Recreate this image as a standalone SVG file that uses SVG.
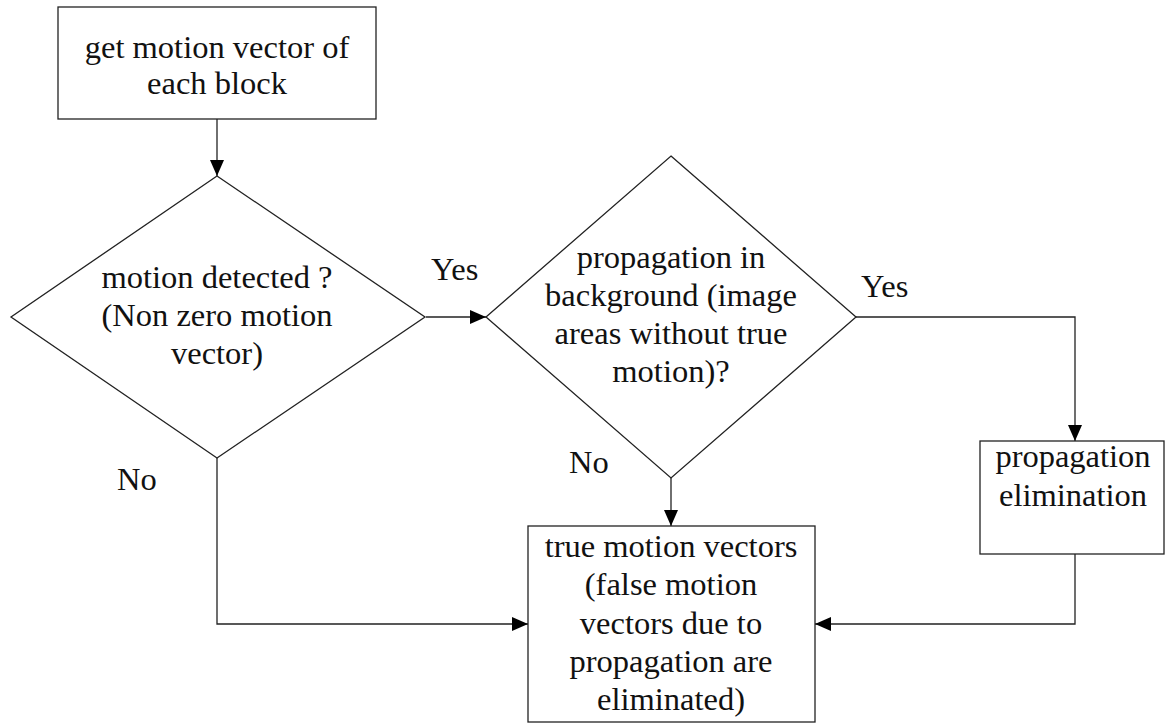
<svg xmlns="http://www.w3.org/2000/svg" width="1166" height="724" viewBox="0 0 1166 724">
  <style>
    .shape { fill: #ffffff; stroke: #222222; stroke-width: 1.3; }
    .link { fill: none; stroke: #222222; stroke-width: 1.3; }
    text { font-family: "Liberation Serif", "Times New Roman", serif; font-size: 32.5px; fill: #111111; text-anchor: middle; }
    .lbl { text-anchor: start; }
  </style>
  <defs>
    <marker id="arrow" viewBox="0 0 16 14" refX="16" refY="7" markerWidth="16" markerHeight="14" markerUnits="userSpaceOnUse" orient="auto">
      <path d="M0,0 L16,7 L0,14 Z" fill="#000000"/>
    </marker>
  </defs>

  <rect width="1166" height="724" fill="#ffffff"/>

  <!-- connectors -->
  <g id="connectors">
    <path class="link" d="M217,119 L217,176" marker-end="url(#arrow)"/>
    <path class="link" d="M426,317 L486,317" marker-end="url(#arrow)"/>
    <path class="link" d="M856,317 L1075,317 L1075,441" marker-end="url(#arrow)"/>
    <path class="link" d="M671,478 L671,526" marker-end="url(#arrow)"/>
    <path class="link" d="M217,458 L217,624 L528,624" marker-end="url(#arrow)"/>
    <path class="link" d="M1075,554 L1075,624 L815,624" marker-end="url(#arrow)"/>
    <text class="lbl" x="431" y="280">Yes</text>
    <text class="lbl" x="861" y="297">Yes</text>
    <text class="lbl" x="117" y="490">No</text>
    <text class="lbl" x="569" y="473">No</text>
  </g>

  <!-- start: block motion vectors -->
  <g id="get-mv">
    <rect class="shape" x="58" y="7" width="318" height="112"/>
    <text x="217" y="58">get motion vector of</text>
    <text x="217" y="94">each block</text>
  </g>

  <!-- decision: motion detected -->
  <g id="motion-detected">
    <polygon class="shape" points="217,176 425,317 217,458 11,317"/>
    <text x="217" y="288">motion detected ?</text>
    <text x="217" y="326">(Non zero motion</text>
    <text x="217" y="364">vector)</text>
  </g>

  <!-- decision: propagation in background -->
  <g id="propagation-bg">
    <polygon class="shape" points="671,156 856,317 671,478 486,317"/>
    <text x="671" y="268">propagation in</text>
    <text x="671" y="306">background (image</text>
    <text x="671" y="344">areas without true</text>
    <text x="671" y="382">motion)?</text>
  </g>

  <!-- process: propagation elimination -->
  <g id="propagation-elim">
    <rect class="shape" x="980" y="441" width="184" height="113"/>
    <text x="1073" y="467">propagation</text>
    <text x="1073" y="506">elimination</text>
  </g>

  <!-- result: true motion vectors -->
  <g id="true-mv">
    <rect class="shape" x="528" y="526" width="287" height="196"/>
    <text x="671" y="557">true motion vectors</text>
    <text x="671" y="595">(false motion</text>
    <text x="671" y="634">vectors due to</text>
    <text x="671" y="672">propagation are</text>
    <text x="671" y="710">eliminated)</text>
  </g>
</svg>
